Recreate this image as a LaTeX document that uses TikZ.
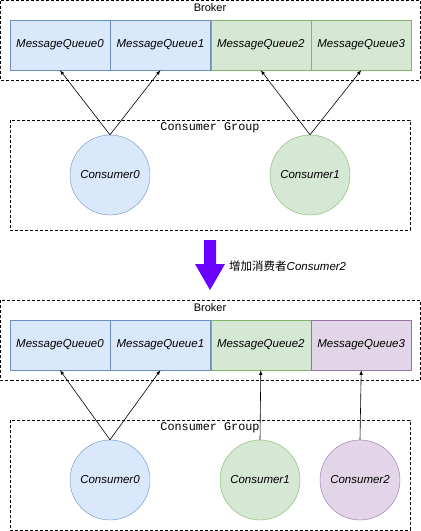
\documentclass[tikz,border=0pt]{standalone}
\usepackage{fontspec}
\setmainfont{Liberation Sans}
\setmonofont{Liberation Mono}
\newfontfamily\cjk{Noto Sans CJK SC}
\usetikzlibrary{positioning}
\definecolor{qblue}{HTML}{DAE8FC}
\definecolor{lblue}{HTML}{6C8EBF}
\definecolor{qgreen}{HTML}{D5E8D4}
\definecolor{lgreen}{HTML}{82B366}
\definecolor{qpurple}{HTML}{E1D5E7}
\definecolor{lpurple}{HTML}{9673A6}
\definecolor{bigarrow}{HTML}{6A00FF}

\tikzset{
  grp/.style={draw, dash pattern=on 3pt off 2pt, line width=0.7pt},
  queue/.style={draw, minimum width=100pt, minimum height=50pt, inner sep=0pt, font=\fontsize{11.5}{13}\selectfont\itshape},
  consumer/.style={circle, draw, minimum size=80pt, inner sep=0pt, font=\fontsize{11.5}{13}\selectfont\itshape},
  grplabel/.style={font=\fontsize{11}{13}\selectfont},
  monolabel/.style={font=\fontsize{11.8}{13}\selectfont\ttfamily},
  link/.style={->, >=latex, line width=0.6pt},
}

\begin{document}
\begin{tikzpicture}[x=1pt,y=-1pt]
  \useasboundingbox (0,0) rectangle (421,531);

  % before
  \draw[grp] (0.5,0.5) rectangle (420,80);
  \node[grplabel] (brokerA) at (210,8) {Broker};
  \node[queue, fill=qblue, draw=lblue] (qa0) at (60,45) {MessageQueue0};
  \node[queue, fill=qblue, draw=lblue, right=0pt of qa0] (qa1) {MessageQueue1};
  \node[queue, fill=qgreen, draw=lgreen, right=0pt of qa1] (qa2) {MessageQueue2};
  \node[queue, fill=qgreen, draw=lgreen, right=0pt of qa2] (qa3) {MessageQueue3};

  \draw[grp] (10,120) rectangle (410,230);
  \node[monolabel] (groupA) at (210,128) {Consumer Group};
  \node[consumer, fill=qblue, draw=lblue] (ca0) at (110,175) {Consumer0};
  \node[consumer, fill=qgreen, draw=lgreen] (ca1) at (310,175) {Consumer1};

  \draw[link] (ca0.north) -- (qa0.south);
  \draw[link] (ca0.north) -- (qa1.south);
  \draw[link] (ca1.north) -- (qa2.south);
  \draw[link] (ca1.north) -- (qa3.south);

  % step
  \fill[bigarrow] (204,240) -- (216,240) -- (216,264) -- (225,264) -- (210,290) -- (195,264) -- (204,264) -- cycle;
  \node[anchor=west, inner sep=0pt, font=\fontsize{11.5}{13}\selectfont] (addtxt) at (229,266) {{\cjk 增加消费者}\textit{Consumer2}};

  % after
  \draw[grp] (0.5,300) rectangle (420,380);
  \node[grplabel] (brokerB) at (210,308) {Broker};
  \node[queue, fill=qblue, draw=lblue] (qb0) at (60,345) {MessageQueue0};
  \node[queue, fill=qblue, draw=lblue, right=0pt of qb0] (qb1) {MessageQueue1};
  \node[queue, fill=qgreen, draw=lgreen, right=0pt of qb1] (qb2) {MessageQueue2};
  \node[queue, fill=qpurple, draw=lpurple, right=0pt of qb2] (qb3) {MessageQueue3};

  \draw[grp] (10,420) rectangle (410,530);
  \node[monolabel] (groupB) at (210,428) {Consumer Group};
  \node[consumer, fill=qblue, draw=lblue] (cb0) at (110,480) {Consumer0};
  \node[consumer, fill=qgreen, draw=lgreen] (cb1) at (260,480) {Consumer1};
  \node[consumer, fill=qpurple, draw=lpurple] (cb2) at (360,480) {Consumer2};

  \draw[link] (cb0.north) -- (qb0.south);
  \draw[link] (cb0.north) -- (qb1.south);
  \draw[link] (cb1.north) -- (qb2.south);
  \draw[link] (cb2.north) -- (qb3.south);
\end{tikzpicture}
\end{document}
